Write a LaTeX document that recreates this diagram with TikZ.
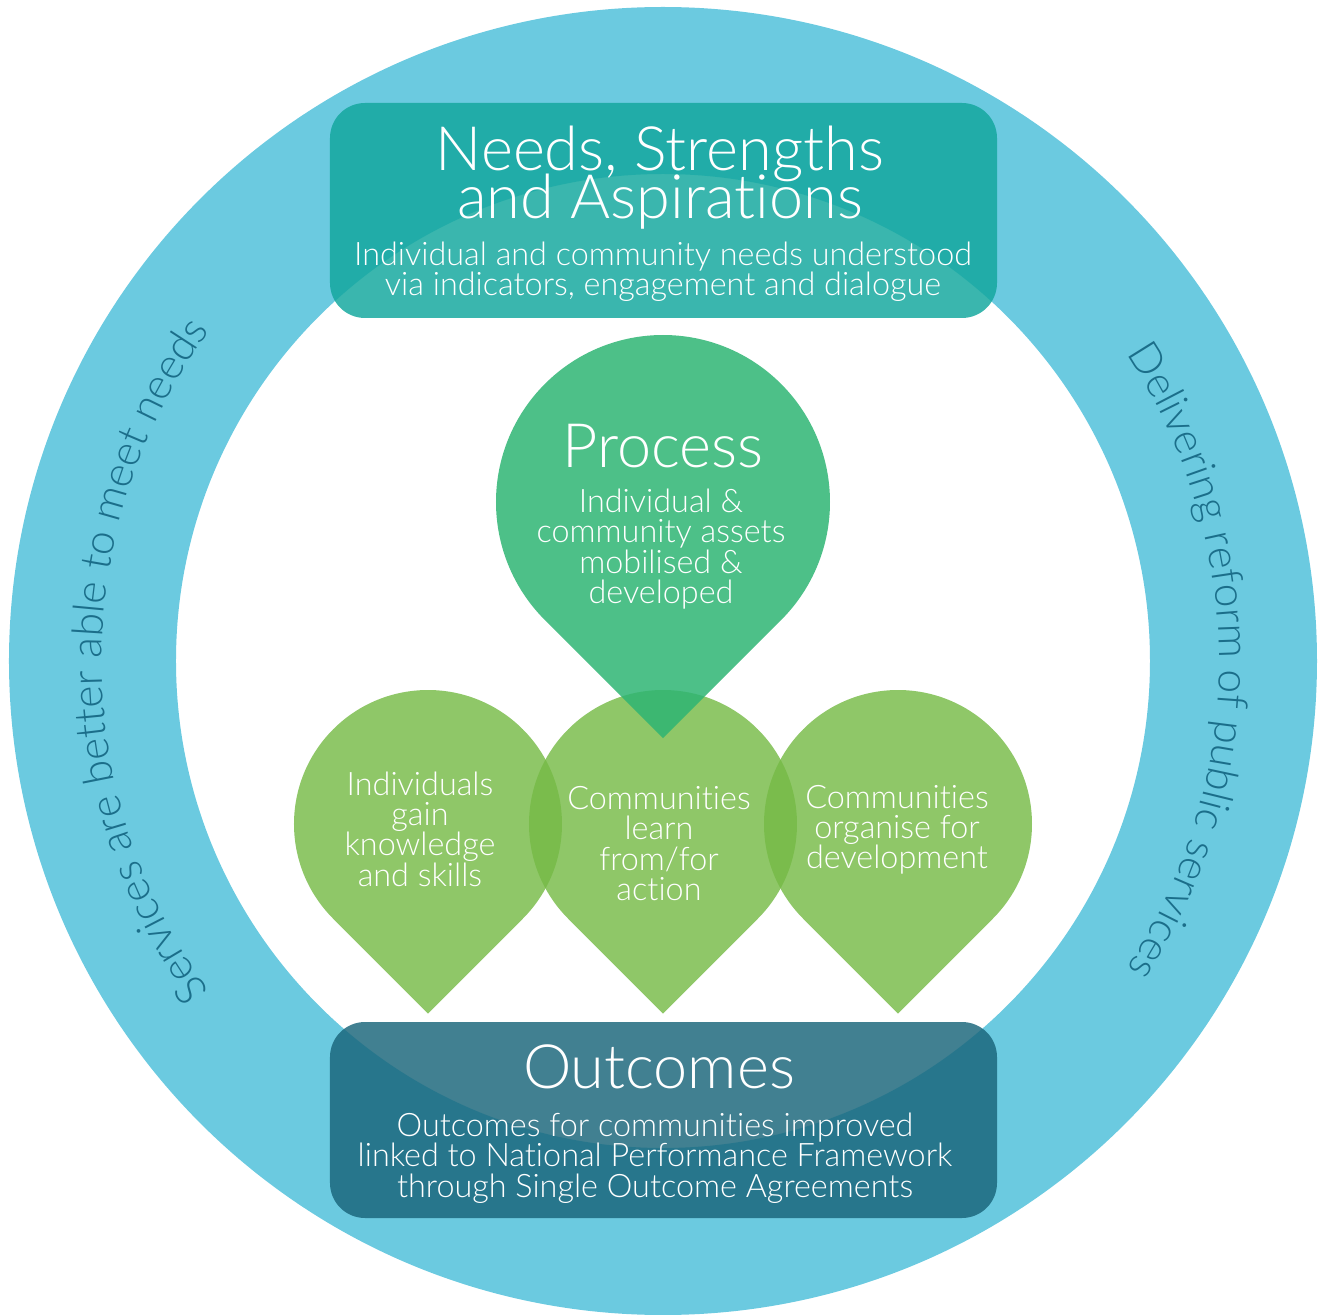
\documentclass[tikz,border=0pt]{standalone}
\usepackage{fontspec}
\setmainfont{Lato Light}[Ligatures=NoCommon]
\usetikzlibrary{decorations.text}
\definecolor{ringc}{RGB}{107,202,224}
\definecolor{ringtxt}{RGB}{27,110,138}
\definecolor{topc}{RGB}{18,167,157}
\definecolor{botc}{RGB}{26,102,123}
\definecolor{leafc}{RGB}{117,186,69}
\definecolor{procc}{RGB}{46,181,115}
\newcommand\ringfont{\fontsize{12.1}{14}\selectfont\color{ringtxt}}
\newcommand\tightlines{\setlength{\lineskiplimit}{-20pt}\setlength{\lineskip}{0pt}}
\newcommand\bigfont{\fontsize{17.4}{13.66}\selectfont\tightlines}
\newcommand\smallfont{\fontsize{9.2}{8.6}\selectfont\tightlines}
\newcommand\tdrop[4]{\fill[#1] (#2,#3) ++(-45:#4) arc[start angle=-45,end angle=225,radius=#4] -- (#2,{#3-1.41421*#4}) -- cycle;}
\begin{document}
\begin{tikzpicture}[x=0.01cm,y=0.01cm,
  ringfill/.style={fill=ringc},
  boxfill/.style={rounded corners=0.35cm, fill opacity=0.83},
  leaf/.style={fill=leafc, fill opacity=0.81},
  procfill/.style={fill=procc, fill opacity=0.85},
  txt/.style={text=white, align=center, inner sep=0pt},
  bigtxt/.style={txt, font=\bigfont},
  smalltxt/.style={txt, font=\smallfont},
]
\useasboundingbox (-663,-654) rectangle (661,661);
\fill[ringfill, even odd rule] (0,0) circle[radius=654] (0,0) circle[radius=487];
\fill[boxfill, fill=topc] (-333,343) rectangle (334,558);
\fill[boxfill, fill=botc] (-333,-557) rectangle (334,-361);
\tdrop{leaf}{-235}{-163}{134}
\tdrop{leaf}{0}{-163}{134}
\tdrop{leaf}{235}{-163}{134}
\tdrop{procfill}{0}{159}{167}
\node[bigtxt] (nsa) at (-3,483) {Needs, Strengths\\and Aspirations};
\node[smalltxt] (nsasub) at (0,389) {Individual and community needs understood\\via indicators, engagement and dialogue};
\node[bigtxt, anchor=base] (proc) at (0,193) {Process};
\node[smalltxt] (procsub) at (-2,112) {Individual \&\\community assets\\mobilised \&\\developed};
\node[smalltxt] (l1) at (-243,-168) {Individuals\\gain\\knowledge\\and skills};
\node[smalltxt] (l2) at (-4,-182.5) {Communities\\learn\\from/for\\action};
\node[smalltxt] (l3) at (234,-169) {Communities\\organise for\\development};
\node[bigtxt, anchor=base] (outc) at (-4,-427) {Outcomes};
\node[smalltxt] (outsub) at (-8,-497) {Outcomes for communities improved\\linked to National Performance Framework\\through Single Outcome Agreements};
\path[decorate, decoration={text along path, text align=center, text={|\ringfont|Services are better able to meet needs}}] (260:561) arc[start angle=260, end angle=100, radius=561];
\path[decorate, decoration={text along path, text align=center, text={|\ringfont|Delivering reform of public services}}] (80:556) arc[start angle=80, end angle=-80, radius=556];
\end{tikzpicture}
\end{document}
